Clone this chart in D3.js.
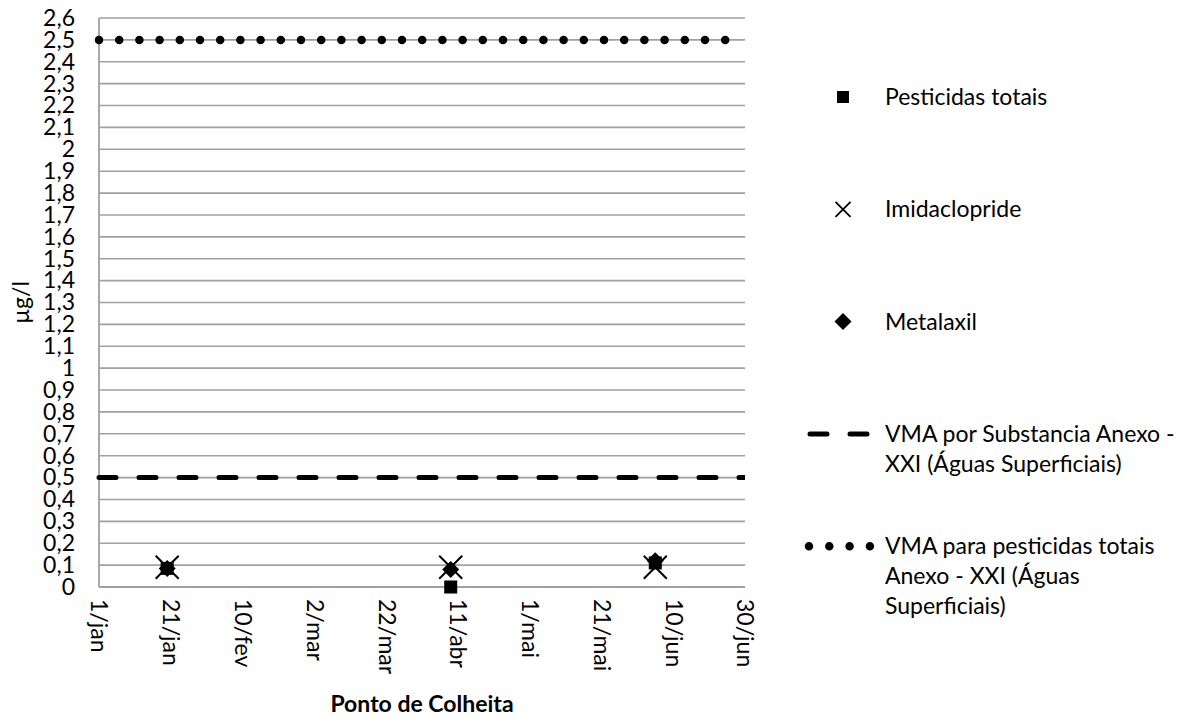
<!DOCTYPE html>
<html>
<head>
<meta charset="utf-8">
<script src="https://cdn.jsdelivr.net/npm/d3@7"></script>
<style>
  html, body { margin: 0; padding: 0; background: #fff; }
  svg { display: block; font-family: Lato, "Noto Sans", sans-serif; }
</style>
</head>
<body>
<svg id="chart" width="1201" height="722"></svg>
<script>
// ---- data ----
const sampleDates = ["2011-01-20", "2011-04-09", "2011-06-05"];
const pesticidasTotais = [0.085, 0.0, 0.11];
const imidaclopride = [0.09, 0.09, 0.09];
const metalaxil = [0.085, 0.08, 0.12];

const limitDates = ["2011-01-01", "2011-06-30"];
const vmaSubstancia = [0.5, 0.5];
const vmaTotais = [2.5, 2.5];

const xTickDates = ["2011-01-01", "2011-01-21", "2011-02-10", "2011-03-02", "2011-03-22",
                    "2011-04-11", "2011-05-01", "2011-05-21", "2011-06-10", "2011-06-30"];
const xTickLabels = ["1/jan", "21/jan", "10/fev", "2/mar", "22/mar", "11/abr", "1/mai", "21/mai", "10/jun", "30/jun"];
const yTickValues = [0, 0.1, 0.2, 0.3, 0.4, 0.5, 0.6, 0.7, 0.8, 0.9, 1, 1.1, 1.2, 1.3, 1.4, 1.5, 1.6, 1.7, 1.8, 1.9, 2, 2.1, 2.2, 2.3, 2.4, 2.5, 2.6];
const yTickLabels = ["0", "0,1", "0,2", "0,3", "0,4", "0,5", "0,6", "0,7", "0,8", "0,9", "1", "1,1", "1,2", "1,3", "1,4", "1,5", "1,6", "1,7", "1,8", "1,9", "2", "2,1", "2,2", "2,3", "2,4", "2,5", "2,6"];

const legendLabels = [
  ["Pesticidas totais"],
  ["Imidaclopride"],
  ["Metalaxil"],
  ["VMA por Substancia Anexo -", "XXI (Águas Superficiais)"],
  ["VMA para pesticidas totais", "Anexo - XXI (Águas", "Superficiais)"]
];
const axisTitleX = "Ponto de Colheita";
const axisTitleY = "µg/l";

// ---- layout ----
const parse = d3.utcParse("%Y-%m-%d");
const svg = d3.select("#chart");
const plot = { left: 99, right: 745, top: 18, bottom: 587 };
const FS = 23;

const x = d3.scaleUtc().domain([parse(limitDates[0]), parse(limitDates[1])]).range([plot.left, plot.right]);
const y = d3.scaleLinear().domain([0, 2.6]).range([plot.bottom, plot.top]);

// gridlines
svg.append("g").selectAll("line").data(yTickValues.filter(v => v > 0)).join("line")
  .attr("x1", plot.left).attr("x2", plot.right)
  .attr("y1", d => y(d)).attr("y2", d => y(d))
  .attr("stroke", "#a0a0a0").attr("stroke-width", 1.6);

// axes lines
svg.append("line").attr("x1", plot.left).attr("x2", plot.right)
  .attr("y1", y(0)).attr("y2", y(0)).attr("stroke", "#a0a0a0").attr("stroke-width", 1.8);
svg.append("line").attr("x1", plot.left).attr("x2", plot.left)
  .attr("y1", y(0)).attr("y2", y(2.6)).attr("stroke", "#a0a0a0").attr("stroke-width", 1.8);

// y tick labels
const yAxis = d3.axisLeft(y).tickValues(yTickValues).tickSize(0).tickPadding(0)
  .tickFormat((d, i) => yTickLabels[i]);
const gy = svg.append("g").attr("transform", `translate(${plot.left - 24},0)`).call(yAxis);
gy.select(".domain").remove();
gy.selectAll("text").attr("font-size", FS).attr("fill", "#000").attr("font-family", "Lato, sans-serif");

// x tick labels (rotated)
const xAxis = d3.axisBottom(x).tickValues(xTickDates.map(parse)).tickSize(0)
  .tickFormat((d, i) => xTickLabels[i]);
const gx = svg.append("g").attr("transform", `translate(0,${plot.bottom})`).call(xAxis);
gx.select(".domain").remove();
gx.selectAll("text")
  .attr("font-size", FS).attr("fill", "#000").attr("font-family", "Lato, sans-serif")
  .attr("text-anchor", "start")
  .attr("x", 0).attr("y", 0).attr("dy", "0.35em")
  .attr("transform", "translate(0,12) rotate(90)");

// limit lines
const lineGen = d3.line().x(d => x(d[0])).y(d => y(d[1]));
const clip = svg.append("clipPath").attr("id", "clipPlot").append("rect")
  .attr("x", plot.left - 10).attr("y", plot.top - 10)
  .attr("width", plot.right - plot.left + 10).attr("height", plot.bottom - plot.top + 30);

svg.append("path")
  .attr("d", lineGen(limitDates.map((d, i) => [parse(d), vmaSubstancia[i]])))
  .attr("fill", "none").attr("stroke", "#000").attr("stroke-width", 5)
  .attr("stroke-linecap", "round").attr("stroke-dasharray", "17 23")
  .attr("clip-path", "url(#clipPlot)");
svg.append("path")
  .attr("d", lineGen(limitDates.map((d, i) => [parse(d), vmaTotais[i]])))
  .attr("fill", "none").attr("stroke", "#000").attr("stroke-width", 8.5)
  .attr("stroke-linecap", "round").attr("stroke-dasharray", "0 20.2")
  .attr("clip-path", "url(#clipPlot)");

// markers
const sqSym = d3.symbol().type(d3.symbolSquare);
const diaPath = s => `M0,${-s}L${s},0L0,${s}L${-s},0Z`;
const crossPath = s => `M${-s},${-s}L${s},${s}M${s},${-s}L${-s},${s}`;

const pts = sampleDates.map(parse);
svg.append("g").selectAll("rect").data(pts).join("rect")
  .attr("x", (d) => x(d) - 6.5).attr("y", (d, i) => y(pesticidasTotais[i]) - 6.5)
  .attr("width", 13).attr("height", 13).attr("fill", "#000");
svg.append("g").selectAll("path").data(pts).join("path")
  .attr("transform", (d, i) => `translate(${x(d)},${y(metalaxil[i])})`)
  .attr("d", diaPath(8.5)).attr("fill", "#000");
svg.append("g").selectAll("path").data(pts).join("path")
  .attr("transform", (d, i) => `translate(${x(d)},${y(imidaclopride[i])})`)
  .attr("d", crossPath(11.5)).attr("fill", "none").attr("stroke", "#000").attr("stroke-width", 2);

// axis titles
svg.append("text").attr("x", (plot.left + plot.right) / 2).attr("y", 712)
  .attr("text-anchor", "middle").attr("font-size", FS).attr("font-weight", "bold")
  .attr("fill", "#000").text(axisTitleX);
svg.append("text").attr("transform", `translate(29,${(plot.top + plot.bottom) / 2}) rotate(-90)`)
  .attr("text-anchor", "middle").attr("font-size", FS).attr("fill", "#000").text(axisTitleY);

// legend
const legX = 843, legTextX = 885, legY0 = 97, legStep = 112.3, lineH = 30;
const leg = svg.append("g");
legendLabels.forEach((lines, i) => {
  const cy = legY0 + i * legStep;
  const t = leg.append("text").attr("x", legTextX).attr("y", cy).attr("dy", "0.35em")
    .attr("font-size", FS).attr("fill", "#000");
  lines.forEach((ln, j) => {
    t.append("tspan").attr("x", legTextX).attr("dy", j === 0 ? "0.35em" : lineH).text(ln);
  });
  t.attr("dy", null);
  if (i === 0) leg.append("rect").attr("x", legX - 6).attr("y", cy - 6).attr("width", 12).attr("height", 12).attr("fill", "#000");
  if (i === 1) leg.append("path").attr("transform", `translate(${legX},${cy})`).attr("d", crossPath(7.5))
      .attr("stroke", "#000").attr("stroke-width", 1.8).attr("fill", "none");
  if (i === 2) leg.append("path").attr("transform", `translate(${legX},${cy})`).attr("d", diaPath(8.5)).attr("fill", "#000");
  if (i === 3) leg.append("line").attr("x1", 810).attr("x2", 867).attr("y1", cy).attr("y2", cy)
      .attr("stroke", "#000").attr("stroke-width", 5).attr("stroke-linecap", "round").attr("stroke-dasharray", "17 23");
  if (i === 4) leg.append("line").attr("x1", 809).attr("x2", 871).attr("y1", cy).attr("y2", cy)
      .attr("stroke", "#000").attr("stroke-width", 8.5).attr("stroke-linecap", "round").attr("stroke-dasharray", "0 20.3");
});
</script>
</body>
</html>
